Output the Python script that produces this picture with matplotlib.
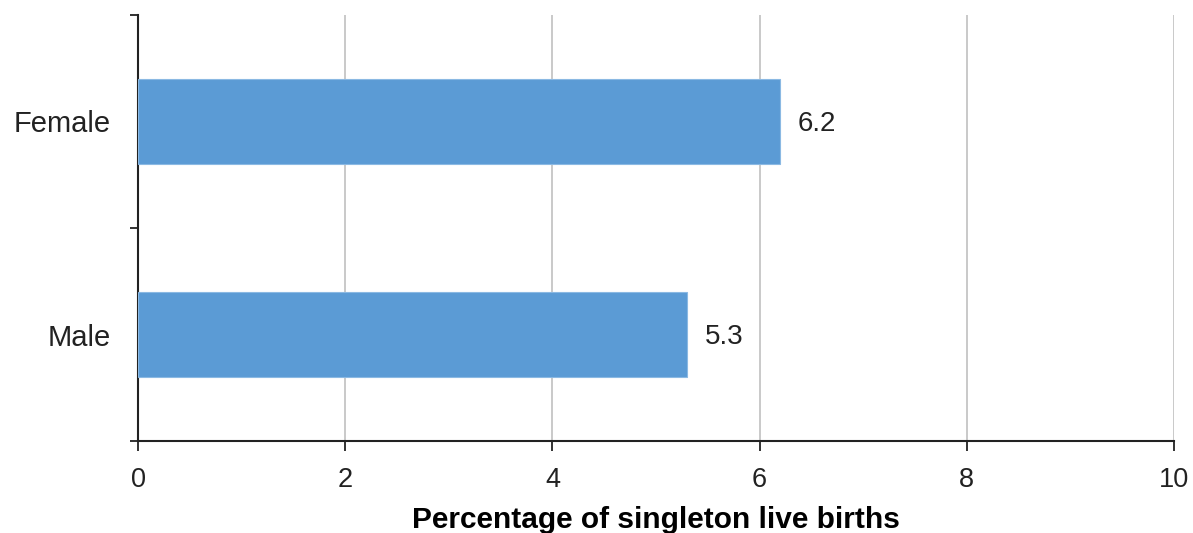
import matplotlib
matplotlib.use('Agg')
from matplotlib import pyplot as plt

# Share of singleton live births, by sex of baby
categories = ['Female', 'Male']
values = [6.2, 5.3]
value_labels = ['6.2', '5.3']
xticks = [0, 2, 4, 6, 8, 10]

plt.rcParams['font.family'] = ['Liberation Sans', 'DejaVu Sans']

fig = plt.figure(figsize=(11.93, 5.33), dpi=100)
ax = fig.add_axes([138 / 1193, 92 / 533, (1174 - 138) / 1193, (441 - 15) / 533])

ypos = list(range(len(categories)))
ax.barh(ypos, values, height=0.4, color='#5b9bd5', edgecolor='#8bb9e3', linewidth=0.8, zorder=3)
for y, v, lab in zip(ypos, values, value_labels):
    ax.text(v + 0.17, y + 0.01, lab, va='center', ha='left', fontsize=20, color='#222222')

ax.set_xlim(0, 10)
ax.set_ylim(len(categories) - 0.5, -0.5)
ax.set_xticks(xticks)
ax.set_xticklabels([str(t) for t in xticks], fontsize=19.5, color='#222222')
ax.set_yticks(ypos)
ax.set_yticklabels(categories, fontsize=21, color='#222222')
ax.tick_params(axis='y', length=0, pad=19.5)
# category boundary ticks on the y axis
ax.set_yticks([-0.5, 0.5, 1.5], minor=True)
ax.tick_params(axis='y', which='minor', length=6, width=1.3, color='#222222')
ax.tick_params(axis='x', length=7, width=1.3, color='#222222', pad=11.5)

ax.grid(axis='x', color='#c0c0c0', linewidth=1.2, zorder=0)
for side in ['top', 'right']:
    ax.spines[side].set_visible(False)
for side in ['left', 'bottom']:
    ax.spines[side].set_linewidth(1.5)
    ax.spines[side].set_color('#222222')

ax.set_xlabel('Percentage of singleton live births', fontsize=21.5, fontweight='bold', labelpad=9.5)

fig.savefig('out.png', dpi=100)
